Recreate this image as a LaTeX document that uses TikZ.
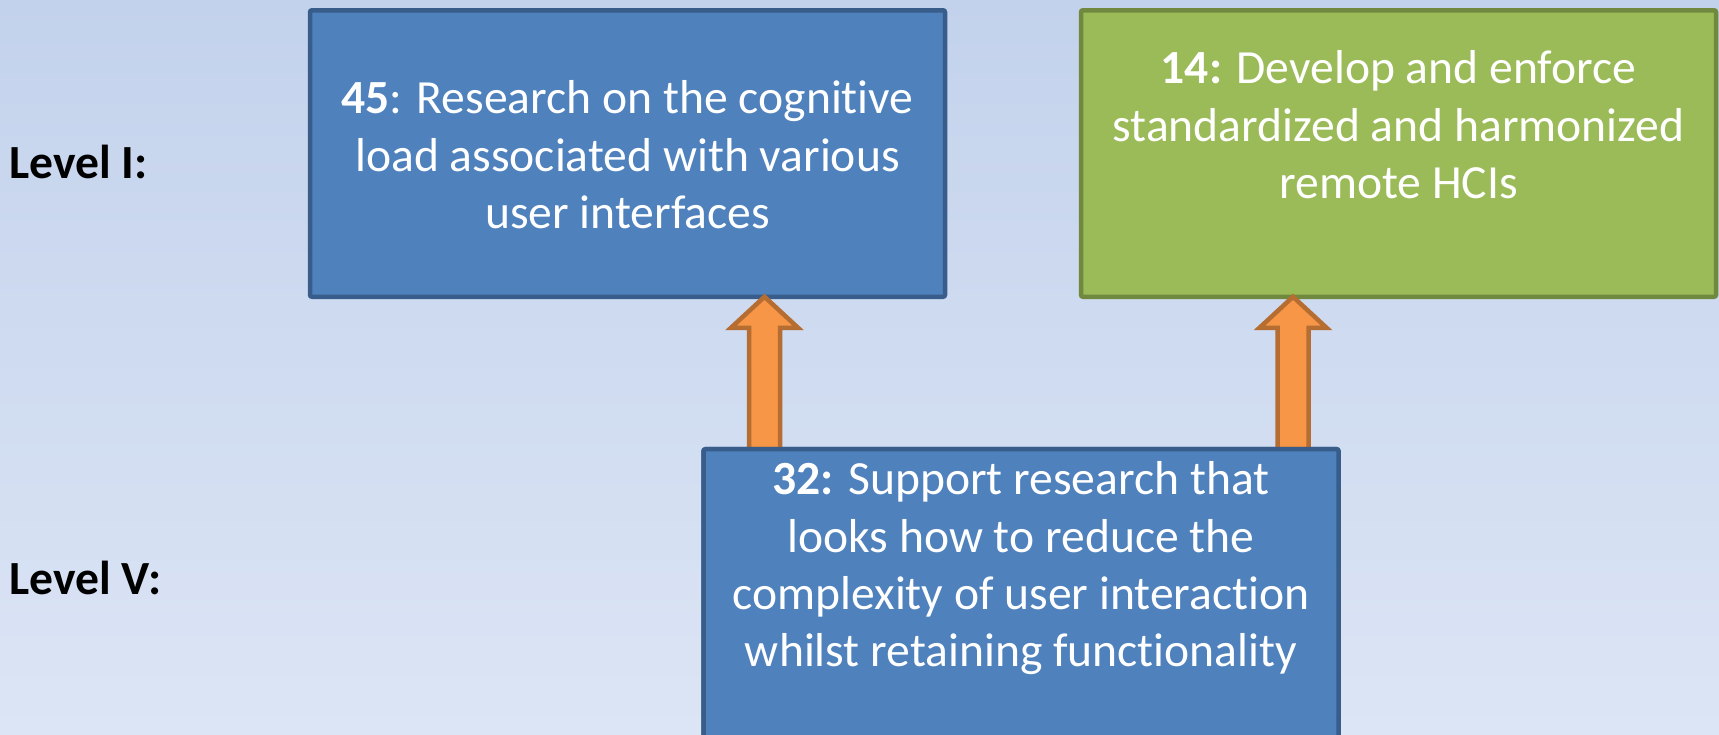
\documentclass[tikz,border=0pt]{standalone}
\usepackage{fontspec}
\setmainfont{Carlito}[Ligatures={TeX,NoCommon}]
\usetikzlibrary{calc}
\definecolor{bgtop}{HTML}{C3D2EC}
\definecolor{bgbot}{HTML}{DCE5F5}
\definecolor{bluefill}{HTML}{4F81BD}
\definecolor{blueline}{HTML}{385D8A}
\definecolor{greenfill}{HTML}{9BBB59}
\definecolor{greenline}{HTML}{71893F}
\definecolor{arrowfill}{HTML}{F79646}
\definecolor{arrowline}{HTML}{B66D31}
\tikzset{
  box/.style={rectangle, draw, line width=2.25pt, rounded corners=1pt,
    minimum width=317.5pt, inner sep=0pt, outer sep=0pt},
  topbox/.style={box, minimum height=143.25pt},
  bluebox/.style={fill=bluefill, draw=blueline},
  greenbox/.style={fill=greenfill, draw=greenline},
  boxtext/.style={text=white, align=center, inner sep=0pt, anchor=north,
    font=\fontsize{23.8pt}{28.7pt}\selectfont},
  leveltext/.style={anchor=base west, inner sep=0pt,
    font=\fontsize{23.8pt}{28.7pt}\selectfont\bfseries},
  blockarrow/.style={draw=arrowline, fill=arrowfill, line width=2.25pt,
    to path={let \p1=(\tikztostart), \p2=(\tikztotarget) in
      (\x1-7.75pt,\y1) -- (\x1-7.75pt,\y2-15.5pt) -- (\x1-16.75pt,\y2-15.5pt)
      -- (\x1,\y2) -- (\x1+16.75pt,\y2-15.5pt) -- (\x1+7.75pt,\y2-15.5pt)
      -- (\x1+7.75pt,\y1) -- cycle}}
}
\begin{document}
\begin{tikzpicture}[x=0.5pt, y=-0.5pt]
  \useasboundingbox (0,0) rectangle (1719,734);
  \clip (0,0) rectangle (1719,734);
  \shade[top color=bgtop, bottom color=bgbot] (0,0) rectangle (1719,734);

  \node[topbox, bluebox] (b45) at (627.5,153.5) {};
  \node[topbox, greenbox] (b14) at (1398.5,153.5) {};

  \coordinate (ax1) at (764.5,0);
  \coordinate (ax2) at (1293,0);
  \node[box, bluebox, minimum height=165.4pt] (b32) at (1021,614.6) {};
  \path[blockarrow] (b32.north -| ax1) to (b45.south -| ax1);
  \path[blockarrow] (b32.north -| ax2) to (b14.south -| ax2);
  \node[box, bluebox, minimum height=165.4pt] (b32) at (1021,614.6) {};

  \node[boxtext] (t45) at ($(b45.north)+(0,62.85)$)
    {\strut\textbf{45}: Research on the cognitive\\load associated with various\\user interfaces};
  \node[boxtext] (t14) at ($(b14.north)+(0,32.85)$)
    {\strut\textbf{14:} Develop and enforce\\standardized and harmonized\\remote HCIs};
  \node[boxtext] (t32) at ($(b32.north)+(0,4.85)$)
    {\strut\textbf{32:} Support research that\\looks how to reduce the\\complexity of user interaction\\whilst retaining functionality};

  \node[leveltext] (lv1) at (9,178) {Level I:};
  \node[leveltext] (lv5) at (9,594) {Level V:};
\end{tikzpicture}
\end{document}
